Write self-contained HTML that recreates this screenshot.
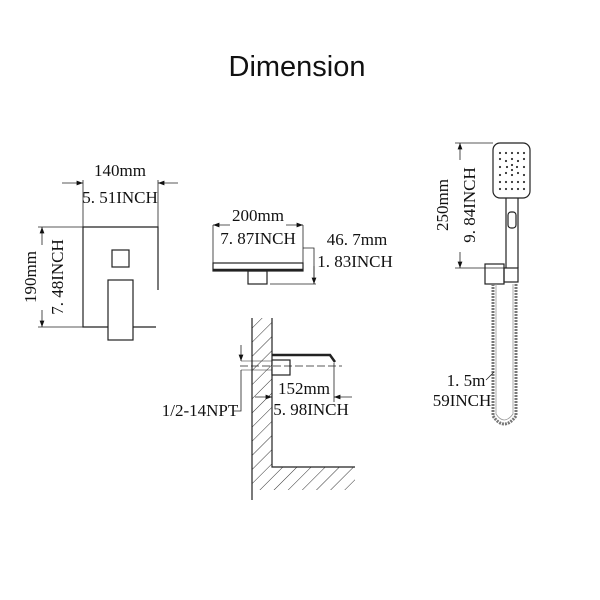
<!DOCTYPE html>
<html><head><style>
body{margin:0;background:#fff}
svg{display:block}
text{font-family:"Liberation Serif",serif;fill:#111}
</style></head><body>
<svg width="600" height="600" viewBox="0 0 600 600" xmlns="http://www.w3.org/2000/svg">
<defs>
<pattern id="h" width="10" height="10" patternUnits="userSpaceOnUse" patternTransform="rotate(45)">
<line x1="0" y1="0" x2="0" y2="10" stroke="#333" stroke-width="1"/>
</pattern>
<marker id="a" markerWidth="8" markerHeight="6" refX="8" refY="3" orient="auto"><path d="M0,0 L8,3 L0,6z" fill="#111"/></marker>
</defs>
<text x="297" y="76" style="font-family:'Liberation Sans',sans-serif" font-size="29" text-anchor="middle">Dimension</text>

<g stroke="#222" fill="none" stroke-width="1.2">
<path d="M158,290 V227 H83 V327 H156"/>
<rect x="112" y="250" width="17" height="17"/>
<rect x="108" y="280" width="25" height="60" fill="#fff"/>
<line x1="83" y1="180" x2="83" y2="227" stroke-width="0.8"/>
<line x1="158" y1="180" x2="158" y2="227" stroke-width="0.8"/>
<line x1="62" y1="183" x2="83" y2="183" stroke-width="0.8" marker-end="url(#a)"/>
<line x1="178" y1="183" x2="158" y2="183" stroke-width="0.8" marker-end="url(#a)"/>
<line x1="38" y1="227" x2="83" y2="227" stroke-width="0.8"/>
<line x1="38" y1="327" x2="83" y2="327" stroke-width="0.8"/>
<line x1="42" y1="245" x2="42" y2="227" stroke-width="0.8" marker-end="url(#a)"/>
<line x1="42" y1="310" x2="42" y2="327" stroke-width="0.8" marker-end="url(#a)"/>

<rect x="213" y="263" width="90" height="8"/>
<line x1="213" y1="270" x2="303" y2="270" stroke-width="2.5"/>
<rect x="248" y="271" width="19" height="13"/>
<line x1="270" y1="284" x2="316" y2="284" stroke-width="0.8"/>
<line x1="213" y1="225" x2="213" y2="263" stroke-width="0.8"/>
<line x1="303" y1="225" x2="303" y2="263" stroke-width="0.8"/>
<line x1="230" y1="225" x2="213" y2="225" stroke-width="0.8" marker-end="url(#a)"/>
<line x1="286" y1="225" x2="303" y2="225" stroke-width="0.8" marker-end="url(#a)"/>
<path d="M303,248 H314 V284" stroke-width="0.8"/>
<line x1="314" y1="266" x2="314" y2="284" stroke-width="0.8" marker-end="url(#a)"/>

<path d="M252,318 V490 H355 V467 H272 V318" fill="url(#h)" stroke="none"/>
<path d="M252,318 V500 M272,318 V467 H355" />
<path d="M272,355 H330 L335,362" stroke-width="2.5"/>
<rect x="272" y="360" width="18" height="15" fill="#fff"/>
<line x1="240" y1="366" x2="342" y2="366" stroke-width="0.7" stroke-dasharray="8,3"/>
<line x1="334" y1="363" x2="334" y2="402" stroke-width="0.8"/>
<line x1="255" y1="397" x2="272" y2="397" stroke-width="0.8" marker-end="url(#a)"/>
<line x1="352" y1="397" x2="334" y2="397" stroke-width="0.8" marker-end="url(#a)"/>
<line x1="241" y1="345" x2="241" y2="361" stroke-width="0.8" marker-end="url(#a)"/>
<path d="M241,370 V411 H234" stroke-width="0.8"/>
<line x1="241" y1="361" x2="272" y2="361" stroke-width="0.6"/>
<line x1="241" y1="370" x2="272" y2="370" stroke-width="0.6"/>

<rect x="493" y="143" width="37" height="55" rx="7"/>
<path d="M506,198 V268 M518,198 V268"/>
<rect x="508" y="212" width="8" height="16" rx="3"/>
<rect x="485" y="264" width="19" height="20"/>
<rect x="504" y="268" width="14" height="14"/>
<path d="M493,284 V416 Q504,432 516,416 V284" stroke-width="3" stroke="#777" stroke-dasharray="2,1"/>
<path d="M496,284 V414 Q504,426 513,414 V284" stroke-width="0.8" stroke="#999"/>
<line x1="455" y1="143" x2="493" y2="143" stroke-width="0.8"/>
<line x1="455" y1="268" x2="506" y2="268" stroke-width="0.8"/>
<line x1="460" y1="160" x2="460" y2="143" stroke-width="0.8" marker-end="url(#a)"/>
<line x1="460" y1="252" x2="460" y2="268" stroke-width="0.8" marker-end="url(#a)"/>
<line x1="486" y1="380" x2="494" y2="372" stroke-width="0.8"/>
</g>
<g fill="#333" transform="translate(497,150)">
<circle cx="3" cy="3" r="1.1"/><circle cx="9" cy="3" r="1.1"/><circle cx="15" cy="3" r="1.1"/><circle cx="21" cy="3" r="1.1"/><circle cx="27" cy="3" r="1.1"/>
<circle cx="3" cy="9" r="1.1"/><circle cx="27" cy="9" r="1.1"/><circle cx="9" cy="11" r="1.1"/><circle cx="15" cy="9" r="1.1"/><circle cx="21" cy="11" r="1.1"/>
<circle cx="3" cy="17" r="1.1"/><circle cx="10" cy="17" r="1.1"/><circle cx="15" cy="15" r="1.1"/><circle cx="15" cy="20" r="1.1"/><circle cx="20" cy="17" r="1.1"/><circle cx="27" cy="17" r="1.1"/>
<circle cx="3" cy="25" r="1.1"/><circle cx="9" cy="23" r="1.1"/><circle cx="15" cy="25" r="1.1"/><circle cx="21" cy="23" r="1.1"/><circle cx="27" cy="25" r="1.1"/>
<circle cx="3" cy="32" r="1.1"/><circle cx="9" cy="32" r="1.1"/><circle cx="15" cy="32" r="1.1"/><circle cx="21" cy="32" r="1.1"/><circle cx="27" cy="32" r="1.1"/>
<circle cx="3" cy="39" r="1.1"/><circle cx="9" cy="39" r="1.1"/><circle cx="15" cy="39" r="1.1"/><circle cx="21" cy="39" r="1.1"/><circle cx="27" cy="39" r="1.1"/>
</g>

<g font-size="17">
<text x="120" y="176" text-anchor="middle">140mm</text>
<text x="120" y="203" text-anchor="middle">5. 51INCH</text>
<text transform="translate(36,277) rotate(-90)" text-anchor="middle">190mm</text>
<text transform="translate(63,277) rotate(-90)" text-anchor="middle">7. 48INCH</text>
<text x="258" y="221" text-anchor="middle">200mm</text>
<text x="258" y="244" text-anchor="middle">7. 87INCH</text>
<text x="357" y="245" text-anchor="middle">46. 7mm</text>
<text x="355" y="267" text-anchor="middle">1. 83INCH</text>
<text x="304" y="394" text-anchor="middle">152mm</text>
<text x="311" y="415" text-anchor="middle">5. 98INCH</text>
<text x="200" y="416" text-anchor="middle">1/2-14NPT</text>
<text transform="translate(448,205) rotate(-90)" text-anchor="middle">250mm</text>
<text transform="translate(475,205) rotate(-90)" text-anchor="middle">9. 84INCH</text>
<text x="466" y="386" text-anchor="middle">1. 5m</text>
<text x="462" y="406" text-anchor="middle">59INCH</text>
</g>
</svg>
</body></html>
